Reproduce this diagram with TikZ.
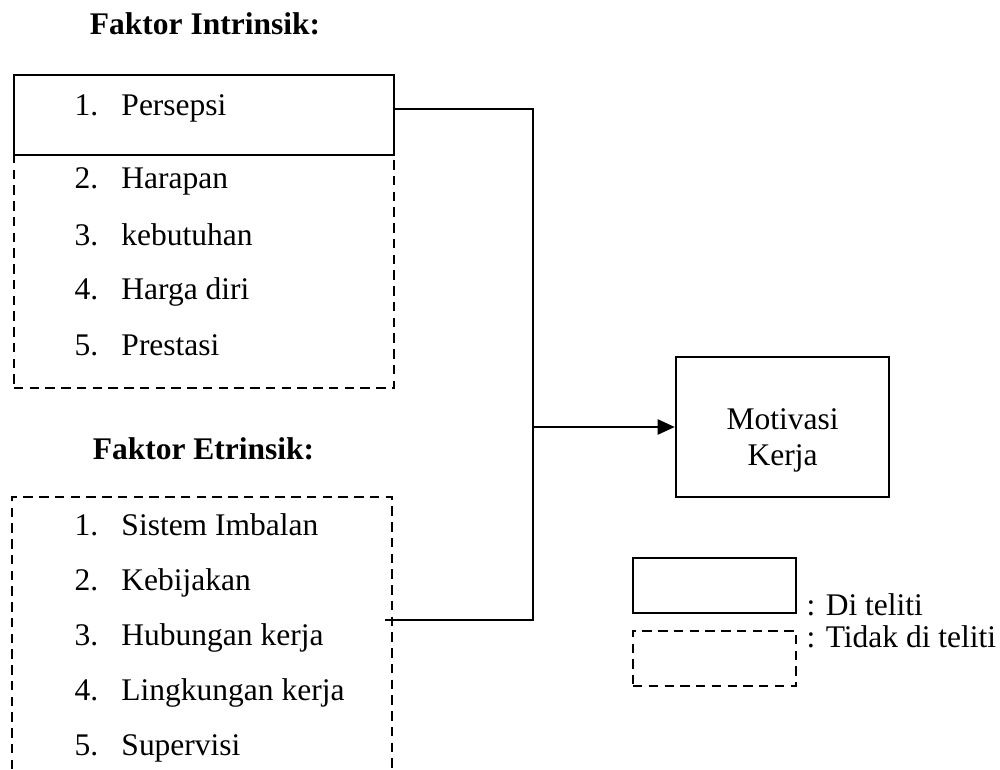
\documentclass[tikz,border=0pt]{standalone}
\usepackage{fontspec}
\setmainfont{Liberation Serif}
\usetikzlibrary{arrows.meta}
\newcommand{\numgap}{17.9pt}

\begin{document}
\begin{tikzpicture}[x=0.381pt,y=-0.381pt,
  every node/.style={font=\fontsize{12}{13.7}\selectfont},
  solidbox/.style={draw,line width=0.9pt,inner sep=0pt},
  dashbox/.style={draw,line width=0.9pt,dash pattern=on 3.6pt off 2.4pt,inner sep=0pt},
  listtext/.style={anchor=base west,inner sep=0pt},
  heading/.style={anchor=base,inner sep=0pt,font=\fontsize{12}{14}\selectfont\bfseries},
  link/.style={line width=0.9pt},
  linkarrow/.style={line width=0.9pt,-{Triangle[length=6.5pt,width=5.7pt]}}]
  \useasboundingbox (0,0) rectangle (1000,769);
  \node[heading] (intrinsik) at (205,35) {Faktor Intrinsik:};
  \node[dashbox,minimum width=144.8pt,minimum height=88.8pt] (intrinsikbox) at (204,271.5) {};
  \node[solidbox,minimum width=144.8pt,minimum height=30.5pt] (persepsi) at (204,115) {};
  \foreach \y/\txt [count=\i] in {116/Persepsi,189/Harapan,245/kebutuhan,300/Harga diri,355/Prestasi}{
    \node[listtext] (in\i) at (74,\y) {\makebox[\numgap][l]{\i.}\txt};
  }
  \node[heading] (etrinsik) at (203.5,459) {Faktor Etrinsik:};
  \draw[dashbox] (12,769) -- (12,497) -- (392,497) -- (392,769);
  \foreach \y/\txt [count=\i] in {535/Sistem Imbalan,590/Kebijakan,645/Hubungan kerja,700/Lingkungan kerja,755/Supervisi}{
    \node[listtext] (ex\i) at (74,\y) {\makebox[\numgap][l]{\i.}\txt};
  }
  \node[solidbox,minimum width=81.2pt,minimum height=53.3pt] (motivasi) at (782.5,427) {};
  \node[align=center,inner sep=0pt] (motivasitext) at (782.5,440) {Motivasi\\Kerja};
  \coordinate (exout) at (385,620);
  \coordinate (junction) at (533,427);
  \draw[link] ([yshift=2.3pt]persepsi.east) -| (junction) |- (exout);
  \draw[linkarrow] (junction) -- (motivasi.west);
  \node[solidbox,minimum width=62.1pt,minimum height=21pt] (legsolid) at (714.5,585.5) {};
  \node[dashbox,minimum width=62.1pt,minimum height=21pt] (legdashed) at (714.5,658.5) {};
  \node[listtext] (diteliti) at (806,615) {: Di teliti};
  \node[listtext] (tidakditeliti) at (806,647) {: Tidak di teliti};
\end{tikzpicture}
\end{document}
